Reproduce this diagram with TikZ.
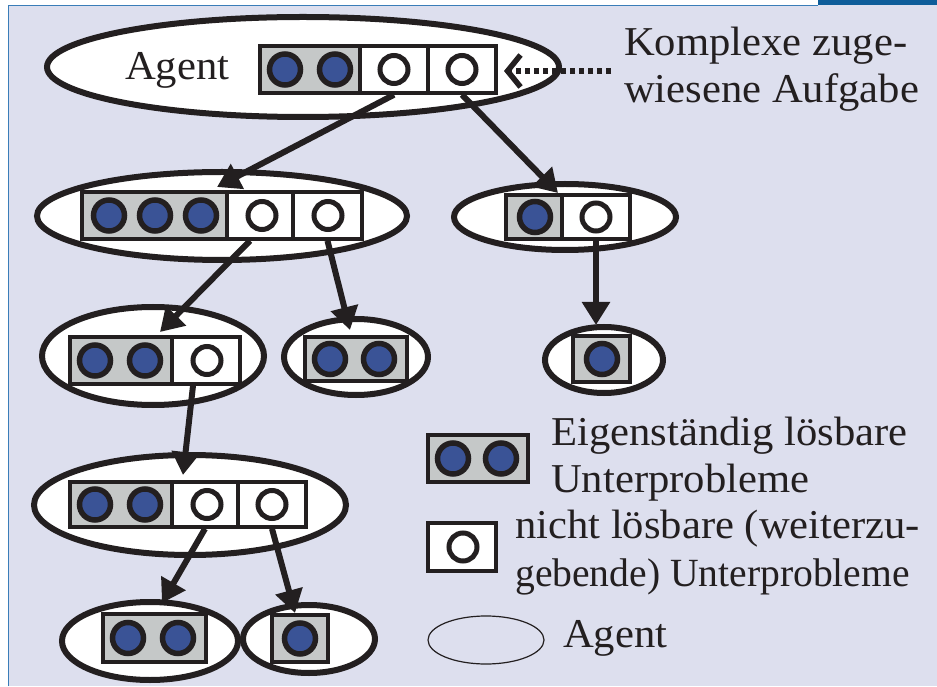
\documentclass[tikz,border=0pt]{standalone}
\usepackage{fontspec}
\setmainfont{Liberation Serif}[FakeStretch=1.04]
\usetikzlibrary{shapes.geometric,arrows.meta}
\definecolor{lav}{RGB}{221,223,238}
\definecolor{frameblue}{RGB}{58,125,184}
\definecolor{barblue}{RGB}{14,93,154}
\definecolor{dotblue}{RGB}{58,83,150}
\definecolor{cellgray}{RGB}{197,200,200}
\definecolor{ink}{RGB}{35,31,32}
\tikzset{
  agent/.style={ellipse,draw=ink,fill=white,line width=6pt,inner sep=0pt},
  cellg/.style={rectangle,draw=ink,fill=cellgray,line width=3.5pt,inner sep=0pt},
  cellw/.style={rectangle,draw=ink,fill=white,line width=3.5pt,inner sep=0pt},
  solv/.style={circle,draw=ink,fill=dotblue,line width=5.5pt,minimum size=31pt,inner sep=0pt},
  open/.style={circle,draw=ink,fill=white,line width=5pt,minimum size=28pt,inner sep=0pt},
  flow/.style={draw=ink,line width=6pt,-{Triangle[length=23pt,width=27pt]}},
  dotarrow/.style={draw=ink,line width=6pt,dash pattern=on 5pt off 4pt,-{Straight Barb[length=13pt,width=32pt,line width=5.5pt]}},
  txt/.style={font=\fontsize{41}{49}\selectfont,inner sep=0pt,anchor=base west,text=ink}
}
\begin{document}
\begin{tikzpicture}[x=1pt,y=-1pt]
% background and frame
\fill[white] (0,0) rectangle (937,686);
\fill[lav] (8,5) rectangle (937,686);
\draw[frameblue,line width=1.2pt] (8.5,686) -- (8.5,5.5) -- (818,5.5);
\fill[barblue] (818,0) rectangle (937,5);
\useasboundingbox (0,0) rectangle (937,686);

% ---- Agent ellipses
\node[agent,minimum width=512pt,minimum height=100pt] (e0) at (303,67) {};
\node[agent,minimum width=370pt,minimum height=88pt] (e1) at (222,216) {};
\node[agent,minimum width=222pt,minimum height=66pt] (e2) at (565,217) {};
\node[agent,minimum width=222pt,minimum height=98pt] (e3) at (153,356) {};
\node[agent,minimum width=144pt,minimum height=76pt] (e4) at (356,357) {};
\node[agent,minimum width=118pt,minimum height=66pt] (e5) at (604,360) {};
\node[agent,minimum width=312pt,minimum height=100pt] (e6) at (190,505) {};
\node[agent,minimum width=176pt,minimum height=78pt] (e7) at (150,641) {};
\node[agent,minimum width=132pt,minimum height=68pt] (e8) at (309,639) {};

% ---- top agent
\node[txt] (agtxt) at (125,80) {Agent};
\node[cellg,minimum width=100pt,minimum height=47pt] (c0g) at (310,69.5) {};
\node[cellw,minimum width=68pt,minimum height=47pt] (c0w1) at (394,69.5) {};
\node[cellw,minimum width=68pt,minimum height=47pt] (c0w2) at (462,69.5) {};
\node[solv] (c0s1) at (285,69.5) {};
\node[solv] (c0s2) at (335,69.5) {};
\node[open] (c0o1) at (394,69.5) {};
\node[open] (c0o2) at (462,69.5) {};

% ---- level 1 left
\node[cellg,minimum width=145pt,minimum height=47pt] (c1g) at (154.5,215.5) {};
\node[cellw,minimum width=66pt,minimum height=47pt] (c1w1) at (260,215.5) {};
\node[cellw,minimum width=69pt,minimum height=47pt] (c1w2) at (327.5,215.5) {};
\node[solv] (c1s1) at (109,215.5) {};
\node[solv] (c1s2) at (155,215.5) {};
\node[solv] (c1s3) at (201,215.5) {};
\node[open] (c1o1) at (262,215.5) {};
\node[open] (c1o2) at (328,215.5) {};

% ---- level 1 right
\node[cellg,minimum width=56pt,minimum height=44pt] (c2g) at (534,217) {};
\node[cellw,minimum width=68pt,minimum height=44pt] (c2w1) at (596,217) {};
\node[solv] (c2s1) at (535,217) {};
\node[open] (c2o1) at (596,217) {};

% ---- level 2
\node[cellg,minimum width=102pt,minimum height=47pt] (c3g) at (121,360.5) {};
\node[cellw,minimum width=68pt,minimum height=47pt] (c3w1) at (206,360.5) {};
\node[solv] (c3s1) at (95,360.5) {};
\node[solv] (c3s2) at (145,360.5) {};
\node[open] (c3o1) at (207,360.5) {};

\node[cellg,minimum width=102pt,minimum height=44pt] (c4g) at (356,359) {};
\node[solv] (c4s1) at (330,359) {};
\node[solv] (c4s2) at (379,359) {};

\node[cellg,minimum width=57pt,minimum height=46pt] (c5g) at (601.5,359) {};
\node[solv] (c5s1) at (602,359) {};

% ---- level 3
\node[cellg,minimum width=102pt,minimum height=45pt] (c6g) at (121,504.5) {};
\node[cellw,minimum width=66pt,minimum height=45pt] (c6w1) at (205,504.5) {};
\node[cellw,minimum width=68pt,minimum height=45pt] (c6w2) at (272,504.5) {};
\node[solv] (c6s1) at (95,504.5) {};
\node[solv] (c6s2) at (145,504.5) {};
\node[open] (c6o1) at (207,504.5) {};
\node[open] (c6o2) at (272,504.5) {};

% ---- level 4
\node[cellg,minimum width=103pt,minimum height=48pt] (c7g) at (154.5,638) {};
\node[solv] (c7s1) at (128,638) {};
\node[solv] (c7s2) at (178,638) {};

\node[cellg,minimum width=56pt,minimum height=47pt] (c8g) at (300,638.5) {};
\node[solv] (c8s1) at (300,638.5) {};

% ---- arrow tips
\coordinate (t1) at (217,187);
\coordinate (t2) at (558,193);
\coordinate (t3) at (160,332);
\coordinate (t4) at (350,330);
\coordinate (t5) at (596,325);
\coordinate (t6) at (183,475);
\coordinate (t7) at (162,603);
\coordinate (t8) at (295,613);
\coordinate (dsrc) at (611,71);
\coordinate (dtip) at (504,71);

\draw[flow] (c0w1.south) -- (t1);
\draw[flow] (c0w2.south) -- (t2);
\draw[flow] ([xshift=-10pt]c1w1.south) -- (t3);
\draw[flow] (c1w2.south) -- (t4);
\draw[flow] (c2w1.south) -- (t5);
\draw[flow] ([xshift=-13pt]c3w1.south) -- (t6);
\draw[flow] (c6w1.south) -- (t7);
\draw[flow] (c6w2.south) -- (t8);
\draw[dotarrow] (dsrc) -- (dtip);

% ---- task label
\node[txt] (task1) at (624,56) {Komplexe zuge-};
\node[txt] (task2) at (624,103) {wiesene Aufgabe};

% ---- legend
\node[cellg,minimum width=100pt,minimum height=47pt] (lg) at (478,458.5) {};
\node[solv] (ls1) at (453,458.5) {};
\node[solv] (ls2) at (501,458.5) {};
\node[cellw,minimum width=68pt,minimum height=48pt] (lw) at (462,547) {};
\node[open] (lo) at (463,547) {};
\node[ellipse,draw=ink,line width=1.2pt,minimum width=116pt,minimum height=48pt,inner sep=0pt] (le) at (486,640) {};
\node[txt] (l1a) at (551,445) {Eigenständig lösbare};
\node[txt] (l1b) at (551,492) {Unterprobleme};
\node[txt] (l2a) at (515,538) {nicht lösbare (weiterzu-};
\node[txt,font=\fontsize{40}{49}\selectfont\addfontfeature{FakeStretch=0.99}] (l2b) at (515,586) {gebende) Unterprobleme};
\node[txt] (l3) at (563,647) {Agent};
\end{tikzpicture}
\end{document}
